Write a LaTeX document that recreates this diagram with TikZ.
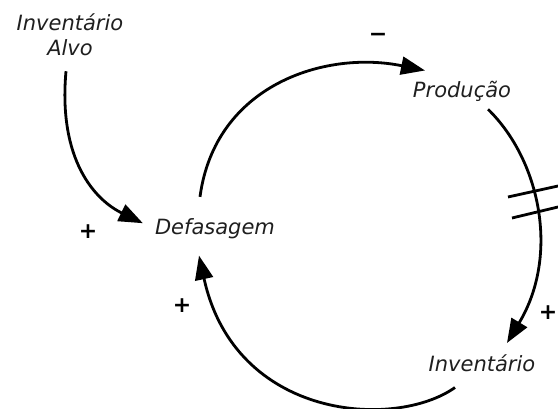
\documentclass[tikz,border=0pt]{standalone}
\usepackage{fontspec}
\setmainfont{DejaVu Sans}
\usetikzlibrary{arrows.meta}

\begin{document}
\begin{tikzpicture}[x=1pt, y=-1pt, every node/.style={inner sep=0pt},
      lbl/.style={font=\fontsize{21}{25}\selectfont\itshape, text=black!88, align=center},
      sgn/.style={font=\fontsize{22}{22}\selectfont\bfseries},
      link/.style={-{Triangle[length=24pt, width=18pt]}, line width=2.8pt},
      dly/.style={line width=2.8pt}]
    \useasboundingbox (0,0) rectangle (558,409);
    \node[lbl] (alvo) at (70,35) {Inventário\\Alvo};
    \node[lbl, anchor=base] (defas) at (215,235) {Defasagem};
    \node[lbl, anchor=base] (prod) at (462,98) {Produção};
    \node[lbl, anchor=base] (invent) at (482,372) {Inventário};
    \node[sgn] (m1) at (378,37) {−};
    \node[sgn] (p1) at (88,232) {+};
    \node[sgn] (p2) at (182,306) {+};
    \node[sgn] (p3) at (548,313) {+};
    \draw[link] ([xshift=-4pt,yshift=-15pt]alvo.south) .. controls (58,160) and (95,200) .. ([xshift=-12pt,yshift=6pt]defas.west);
    \draw[link] ([xshift=-15pt,yshift=22pt]defas.north) .. controls (215,85) and (325,50) .. ([xshift=-37pt,yshift=11pt]prod.north);
    \draw[link] ([xshift=26pt,yshift=-7pt]prod.south) .. controls (540,160) and (560,255) .. ([xshift=25pt,yshift=12pt]invent.north);
    \draw[link] ([xshift=-27pt,yshift=-15pt]invent.south) .. controls (395,430) and (235,420) .. ([xshift=-16pt,yshift=-16pt]defas.south);
    % delay marks
    \draw[dly] (508,197) -- (558,186);
    \draw[dly] (512,218) -- (558,207);
  \end{tikzpicture}
\end{document}
